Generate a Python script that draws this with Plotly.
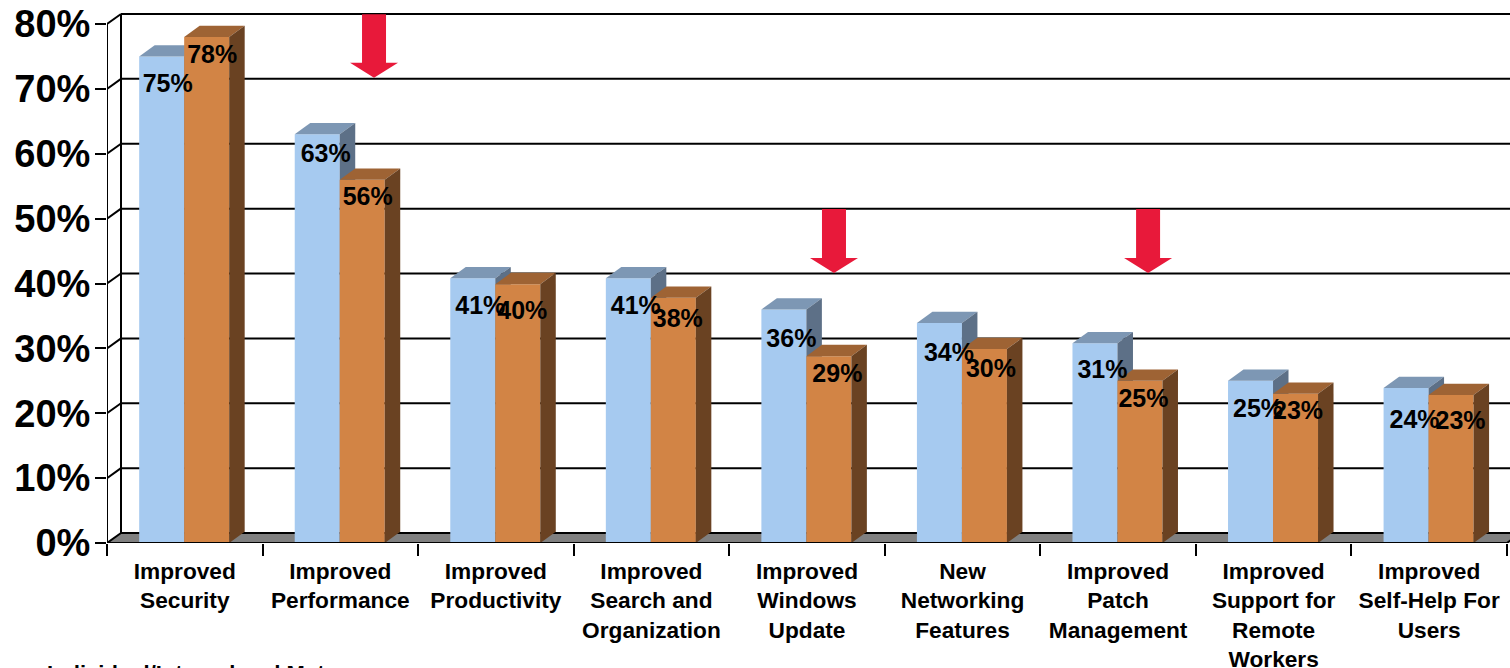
import plotly.graph_objects as go

categories = ["Improved<br>Security", "Improved<br>Performance", "Improved<br>Productivity",
              "Improved<br>Search and<br>Organization", "Improved<br>Windows<br>Update",
              "New<br>Networking<br>Features", "Improved<br>Patch<br>Management",
              "Improved<br>Support for<br>Remote<br>Workers", "Improved<br>Self-Help For<br>Users"]
blue_values = [75, 63, 40.8, 40.8, 36, 33.9, 30.8, 25, 23.9]
orange_values = [78, 56, 39.9, 37.8, 28.8, 29.9, 25, 23, 22.8]
blue_labels = ["75%", "63%", "41%", "41%", "36%", "34%", "31%", "25%", "24%"]
orange_labels = ["78%", "56%", "40%", "38%", "29%", "30%", "25%", "23%", "23%"]
y_ticks = [0, 10, 20, 30, 40, 50, 60, 70, 80]
arrow_categories = [1, 4, 6]
arrow_tips = [71.7, 41.6, 41.6]
arrow_tops = [81.5, 51.5, 51.5]

# hand placement of the data labels relative to their bars (pixels)
blue_label_dx = [6, 8.5, 7.5, 7.5, 7.5, 9.5, 7.5, 7.5, 8.5]
blue_label_drop = [29.5, 21.5, 29.5, 29.5, 31.5, 31.5, 28.5, 29.5, 33.5]
orange_label_dx = [5.5, 5.5, 4.5, 4.5, 8.5, 6.5, 3.5, 2.5, 9.5]
orange_label_drop = [19.5, 19.5, 28.5, 22.5, 19.5, 21.5, 19.5, 18.5, 27.5]
arrow_dx = [33.7, 27, 30]

W, H = 1510, 668
L, B = 107, 125
PX_X = 155.55
PX_Y = 6.4875
XR = [-0.5, -0.5 + (W - L) / PX_X]
YR = [0, (H - B) / PX_Y]
BW = 45 / PX_X
DX, DY = 15.5 / PX_X, 11.3 / PX_Y
WX, WY = 14 / PX_X, 10 / PX_Y
XEND = len(categories) - 0.5
SHIFT = -0.6 / PX_X
BLUE, BLUE_TOP, BLUE_SIDE = "#A6CAF0", "#7D97B4", "#5D7087"
ORANGE, ORANGE_TOP, ORANGE_SIDE = "#D28445", "#9E6334", "#6A4222"
FONT = "Liberation Sans"

fig = go.Figure()

def poly(xs, ys, color, ax):
    fig.add_trace(go.Scatter(x=xs, y=ys, mode="lines", fill="toself", fillcolor=color,
                             line=dict(width=0), hoverinfo="skip", showlegend=False,
                             xaxis=ax[0], yaxis=ax[1]))

xc = [i + SHIFT for i in range(len(categories))]
fig.add_trace(go.Bar(x=[i - BW / 2 for i in xc], y=blue_values, width=BW, marker=dict(color=BLUE, line=dict(width=0)),
                     showlegend=False, hoverinfo="skip", xaxis="x", yaxis="y"))
fig.add_trace(go.Bar(x=[i + BW / 2 for i in xc], y=orange_values, width=BW, marker=dict(color=ORANGE, line=dict(width=0)),
                     showlegend=False, hoverinfo="skip", xaxis="x2", yaxis="y2"))
for i, v in zip(xc, blue_values):
    poly([i - BW, i - BW + DX, i + DX, i], [v, v + DY, v + DY, v], BLUE_TOP, ("x", "y"))
    poly([i, i + DX, i + DX, i], [0, DY, v + DY, v], BLUE_SIDE, ("x", "y"))
for i, v in zip(xc, orange_values):
    poly([i, i + DX, i + BW + DX, i + BW], [v, v + DY, v + DY, v], ORANGE_TOP, ("x2", "y2"))
    poly([i + BW, i + BW + DX, i + BW + DX, i + BW], [0, DY, v + DY, v], ORANGE_SIDE, ("x2", "y2"))

# data labels, on a third overlay so they sit over both bars
fig.add_trace(go.Scatter(x=[i - BW / 2 + d / PX_X for i, d in zip(xc, blue_label_dx)],
                         y=[v - d / PX_Y for v, d in zip(blue_values, blue_label_drop)],
                         mode="text", text=blue_labels, hoverinfo="skip", showlegend=False,
                         textfont=dict(family=FONT, size=25, color="black", weight="bold"),
                         xaxis="x3", yaxis="y3", cliponaxis=False))
fig.add_trace(go.Scatter(x=[i + BW / 2 + d / PX_X for i, d in zip(xc, orange_label_dx)],
                         y=[v - d / PX_Y for v, d in zip(orange_values, orange_label_drop)],
                         mode="text", text=orange_labels, hoverinfo="skip", showlegend=False,
                         textfont=dict(family=FONT, size=25, color="black", weight="bold"),
                         xaxis="x3", yaxis="y3", cliponaxis=False))

# red arrows
for c, tip, top, d in zip(arrow_categories, arrow_tips, arrow_tops, arrow_dx):
    cx = c + d / PX_X
    sw, hw = 12 / PX_X, 24 / PX_X
    neck = tip + 15 / PX_Y
    fig.add_trace(go.Scatter(
        x=[cx - sw, cx + sw, cx + sw, cx + hw, cx, cx - hw, cx - sw, cx - sw],
        y=[top, top, neck, neck, tip, neck, neck, top],
        mode="lines", fill="toself", fillcolor="#E8193A", line=dict(width=0),
        hoverinfo="skip", showlegend=False, xaxis="x3", yaxis="y3"))

shapes = []
def seg(x0, y0, x1, y1, w=2, layer="below"):
    shapes.append(dict(type="line", xref="x", yref="y", x0=x0, y0=y0, x1=x1, y1=y1,
                       line=dict(color="black", width=w), layer=layer))

# floor
shapes.append(dict(type="path", xref="x", yref="y", layer="below",
                   path=f"M {XR[0]} 0 L {XR[0]+WX} {WY} L {XEND+WX} {WY} L {XEND} 0 Z",
                   fillcolor="#808080", line=dict(width=0)))
for t in y_ticks:
    seg(XR[0] + WX, t + WY, XR[1], t + WY)
    seg(XR[0], t, XR[0] + WX, t + WY)
seg(XR[0] + WX, WY, XR[0] + WX, 80 + WY)
seg(XR[0], 0, XR[0], 80)
seg(XR[0], 0, XEND, 0, layer="above")
seg(XEND, 0, XEND + WX, WY, layer="above")

hidden = dict(visible=False, overlaying="x", range=XR)
hiddeny = dict(visible=False, overlaying="y", range=YR)
fig.update_layout(
    width=W, height=H, autosize=False, margin=dict(l=L, r=0, t=0, b=B),
    paper_bgcolor="white", plot_bgcolor="white", barmode="overlay", shapes=shapes,
    xaxis=dict(range=XR, tickmode="array", tickvals=list(range(len(categories))), ticktext=categories, ticks="",
               showgrid=False, zeroline=False, showline=False, ticklabelstandoff=12, automargin=False,
               tickangle=0, tickfont=dict(family=FONT, size=22.7, color="black", weight="bold"),
               minor=dict(tickmode="array", tickvals=[i - 0.5 for i in range(len(categories) + 1)],
                          ticks="outside", ticklen=12, tickwidth=2, tickcolor="black", showgrid=False)),
    yaxis=dict(range=YR, tickmode="array", tickvals=y_ticks, ticktext=[f"{t}%" for t in y_ticks],
               ticks="outside", ticklen=11, tickwidth=2, tickcolor="black", showgrid=False,
               zeroline=False, showline=False, ticklabelstandoff=-3, automargin=False,
               tickfont=dict(family=FONT, size=38, color="black", weight="bold")),
    xaxis2=hidden, yaxis2=hiddeny, xaxis3=hidden, yaxis3=hiddeny,
    annotations=[dict(text="Individual/Internal and Mature", xref="paper", yref="paper",
                      x=-0.044, y=-0.2135, xanchor="left", yanchor="top", showarrow=False,
                      font=dict(family=FONT, size=22, color="black", weight="bold"))],
)
fig.write_html("out.html", config=dict(displayModeBar=False),
               post_script="document.body.style.margin='0';document.documentElement.style.overflow='hidden';")
